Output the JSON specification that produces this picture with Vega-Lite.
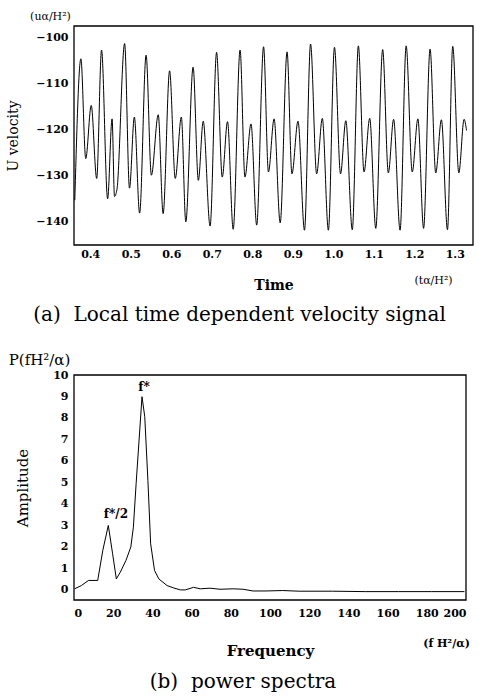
{
  "$schema": "https://vega.github.io/schema/vega-lite/v6.json",
  "background": "white",
  "padding": {"left": 6, "top": 10, "right": 3, "bottom": 5},
  "spacing": 27,
  "config": {
    "font": "DejaVu Serif",
    "view": {"stroke": null},
    "axis": {
      "grid": false,
      "domain": false,
      "ticks": false,
      "labelFont": "DejaVu Serif",
      "labelFontSize": 11,
      "labelFontWeight": "bold",
      "labelColor": "black",
      "titleColor": "black",
      "titleFont": "DejaVu Serif",
      "titleFontWeight": "normal"
    },
    "title": {"font": "DejaVu Serif", "fontSize": 20, "fontWeight": "normal", "color": "black"}
  },
  "datasets": {
    "signal": [
      {"t": 0.362, "u": -135.3}, {"t": 0.377, "u": -104.7}, {"t": 0.389, "u": -126.3}, {"t": 0.4025, "u": -114.8},
      {"t": 0.416, "u": -130.6}, {"t": 0.428, "u": -102.8}, {"t": 0.443, "u": -135.0}, {"t": 0.454, "u": -117.7},
      {"t": 0.460, "u": -134.5}, {"t": 0.466, "u": -133.0}, {"t": 0.485, "u": -101.4}, {"t": 0.497, "u": -132.7},
      {"t": 0.509, "u": -117.3}, {"t": 0.522, "u": -138.1}, {"t": 0.538, "u": -103.9}, {"t": 0.551, "u": -129.9},
      {"t": 0.568, "u": -116.8}, {"t": 0.580, "u": -138.2}, {"t": 0.596, "u": -107.3}, {"t": 0.610, "u": -130.6},
      {"t": 0.625, "u": -117.3}, {"t": 0.636, "u": -140.0}, {"t": 0.654, "u": -106.5}, {"t": 0.667, "u": -131.0},
      {"t": 0.679, "u": -118.2}, {"t": 0.696, "u": -140.9}, {"t": 0.712, "u": -103.3}, {"t": 0.726, "u": -130.3},
      {"t": 0.739, "u": -118.3}, {"t": 0.753, "u": -141.6}, {"t": 0.770, "u": -102.8}, {"t": 0.782, "u": -130.3},
      {"t": 0.797, "u": -118.8}, {"t": 0.811, "u": -140.7}, {"t": 0.828, "u": -102.1}, {"t": 0.840, "u": -129.2},
      {"t": 0.854, "u": -117.7}, {"t": 0.869, "u": -140.2}, {"t": 0.886, "u": -103.2}, {"t": 0.898, "u": -129.6},
      {"t": 0.913, "u": -118.2}, {"t": 0.929, "u": -141.8}, {"t": 0.944, "u": -101.5}, {"t": 0.959, "u": -129.6},
      {"t": 0.973, "u": -117.6}, {"t": 0.988, "u": -141.8}, {"t": 1.003, "u": -102.2}, {"t": 1.018, "u": -129.6},
      {"t": 1.031, "u": -118.1}, {"t": 1.047, "u": -141.7}, {"t": 1.062, "u": -101.9}, {"t": 1.076, "u": -129.2},
      {"t": 1.090, "u": -117.6}, {"t": 1.105, "u": -141.4}, {"t": 1.122, "u": -102.7}, {"t": 1.136, "u": -129.4},
      {"t": 1.149, "u": -117.8}, {"t": 1.165, "u": -141.8}, {"t": 1.180, "u": -101.9}, {"t": 1.195, "u": -129.2},
      {"t": 1.209, "u": -117.7}, {"t": 1.223, "u": -141.4}, {"t": 1.239, "u": -102.6}, {"t": 1.253, "u": -129.4},
      {"t": 1.267, "u": -117.9}, {"t": 1.282, "u": -141.7}, {"t": 1.295, "u": -102.0}, {"t": 1.310, "u": -129.4},
      {"t": 1.323, "u": -117.8}, {"t": 1.329, "u": -120.2}
    ],
    "spectrum": [
      {"f": 0.3, "a": 0.05}, {"f": 3.7, "a": 0.2}, {"f": 7.4, "a": 0.44}, {"f": 12.1, "a": 0.44},
      {"f": 14.7, "a": 1.84}, {"f": 17.5, "a": 3.0}, {"f": 19.7, "a": 1.68}, {"f": 21.6, "a": 0.51},
      {"f": 23.6, "a": 0.82}, {"f": 26.5, "a": 1.37}, {"f": 29.0, "a": 2.0}, {"f": 30.3, "a": 2.92},
      {"f": 31.7, "a": 4.95}, {"f": 33.2, "a": 6.97}, {"f": 34.7, "a": 8.99}, {"f": 36.1, "a": 8.06},
      {"f": 37.7, "a": 5.1}, {"f": 39.1, "a": 2.15}, {"f": 41.1, "a": 0.9}, {"f": 43.3, "a": 0.51},
      {"f": 47.5, "a": 0.2}, {"f": 50.9, "a": 0.09}, {"f": 54.3, "a": 0.0}, {"f": 56.8, "a": 0.0},
      {"f": 61.0, "a": 0.12}, {"f": 64.4, "a": 0.05}, {"f": 69.4, "a": 0.08}, {"f": 74.5, "a": 0.03},
      {"f": 81.2, "a": 0.05}, {"f": 86.3, "a": 0.03}, {"f": 91.3, "a": -0.05}, {"f": 98.0, "a": -0.05},
      {"f": 106.5, "a": -0.03}, {"f": 114.9, "a": -0.06}, {"f": 131.8, "a": -0.06}, {"f": 148.6, "a": -0.08},
      {"f": 165.5, "a": -0.08}, {"f": 182.3, "a": -0.08}, {"f": 199.2, "a": -0.08}
    ],
    "peaks": [
      {"f": 35.7, "a": 9.45, "label": "f*"},
      {"f": 21.4, "a": 3.55, "label": "f*/2"}
    ],
    "frameTop": [{"x1": 0.36, "x2": 1.345, "y1": -145, "y2": -97.6}],
    "frameBottom": [{"x1": 0, "x2": 200, "y1": -0.47, "y2": 10}]
  },
  "vconcat": [
    {
      "width": 399,
      "height": 219,
      "title": {"text": "(a)\u00a0\u00a0Local time dependent velocity signal", "orient": "bottom", "anchor": "middle", "offset": 13, "dx": -34},
      "layer": [
        {
          "data": {"name": "frameTop"},
          "mark": {"type": "rect", "fill": null, "fillOpacity": 0, "stroke": "black", "strokeWidth": 1.3},
          "encoding": {
            "x": {"field": "x1", "type": "quantitative", "scale": {"domain": [0.36, 1.345], "nice": false, "zero": false}, "axis": null},
            "x2": {"field": "x2"},
            "y": {"field": "y1", "type": "quantitative", "scale": {"domain": [-145, -97.6], "nice": false, "zero": false}, "axis": null},
            "y2": {"field": "y2"}
          }
        },
        {
          "data": {"name": "signal"},
          "mark": {"type": "line", "interpolate": "monotone", "color": "black", "strokeWidth": 1, "clip": true},
          "encoding": {
            "x": {
              "field": "t", "type": "quantitative",
              "scale": {"domain": [0.36, 1.345], "nice": false, "zero": false},
              "axis": {"orient": "bottom", "values": [0.4, 0.5, 0.6, 0.7, 0.8, 0.9, 1.0, 1.1, 1.2, 1.3], "format": ".1f",
                       "labelPadding": 3,
                       "title": "Time", "titleFontSize": 14, "titleFontWeight": "bold", "titleY": 40, "titleBaseline": "middle"}
            },
            "y": {
              "field": "u", "type": "quantitative",
              "scale": {"domain": [-145, -97.6], "nice": false, "zero": false},
              "axis": {"orient": "left", "values": [-140, -130, -120, -110, -100], "format": "d",
                       "labelPadding": 6,
                       "title": "U velocity", "titleFontSize": 14, "titleX": -54}
            }
          }
        },
        {
          "data": {"name": "signal"},
          "mark": {"type": "line", "opacity": 0},
          "encoding": {
            "x": {
              "field": "t", "type": "quantitative",
              "scale": {"domain": [0.36, 1.345], "nice": false, "zero": false},
              "axis": {"orient": "top", "labels": false, "values": [],
                       "title": "(tα/H²)", "titleFontSize": 11, "titleAngle": 0, "titleX": 359, "titleY": 254, "titleBaseline": "middle", "titleAlign": "center"}
            },
            "y": {
              "field": "u", "type": "quantitative",
              "scale": {"domain": [-145, -97.6], "nice": false, "zero": false},
              "axis": {"orient": "right", "labels": false, "values": [],
                       "title": "(uα/H²)", "titleFontSize": 11, "titleAngle": 0, "titleX": -423, "titleY": -10, "titleBaseline": "middle", "titleAlign": "center"}
            }
          }
        }
      ],
      "resolve": {"axis": {"x": "independent", "y": "independent"}}
    },
    {
      "width": 392,
      "height": 225,
      "title": {"text": "(b)\u00a0\u00a0power spectra", "orient": "bottom", "anchor": "middle", "offset": 14, "dx": -27},
      "layer": [
        {
          "data": {"name": "frameBottom"},
          "mark": {"type": "rect", "fill": null, "fillOpacity": 0, "stroke": "black", "strokeWidth": 1.3},
          "encoding": {
            "x": {"field": "x1", "type": "quantitative", "scale": {"domain": [0, 200], "nice": false, "zero": false}, "axis": null},
            "x2": {"field": "x2"},
            "y": {"field": "y1", "type": "quantitative", "scale": {"domain": [-0.47, 10], "nice": false, "zero": false}, "axis": null},
            "y2": {"field": "y2"}
          }
        },
        {
          "data": {"name": "spectrum"},
          "mark": {"type": "line", "color": "black", "strokeWidth": 1, "clip": true},
          "encoding": {
            "x": {
              "field": "f", "type": "quantitative",
              "scale": {"domain": [0, 200], "nice": false, "zero": false},
              "axis": {"orient": "bottom", "values": [0, 20, 40, 60, 80, 100, 120, 140, 160, 180, 200], "format": "d",
                       "labelPadding": 7,
                       "title": "Frequency", "titleFontSize": 15, "titleFontWeight": "bold", "titleY": 50, "titleBaseline": "middle"}
            },
            "y": {
              "field": "a", "type": "quantitative",
              "scale": {"domain": [-0.47, 10], "nice": false, "zero": false},
              "axis": {"orient": "left", "values": [0, 1, 2, 3, 4, 5, 6, 7, 8, 9, 10], "format": "d", "labelPadding": 6,
                       "title": "Amplitude", "titleFontSize": 15, "titleX": -44}
            }
          }
        },
        {
          "data": {"name": "peaks"},
          "mark": {"type": "text", "color": "black", "font": "DejaVu Serif", "fontSize": 12, "fontWeight": "bold", "baseline": "middle"},
          "encoding": {
            "x": {
              "field": "f", "type": "quantitative",
              "scale": {"domain": [0, 200], "nice": false, "zero": false},
              "axis": {"orient": "top", "labels": false, "values": [],
                       "title": "(f H²/α)", "titleFontSize": 11, "titleFontWeight": "bold", "titleAngle": 0, "titleX": 372, "titleY": 268, "titleBaseline": "middle", "titleAlign": "center"}
            },
            "y": {
              "field": "a", "type": "quantitative",
              "scale": {"domain": [-0.47, 10], "nice": false, "zero": false},
              "axis": {"orient": "right", "labels": false, "values": [],
                       "title": "P(fH²/α)", "titleFontSize": 15, "titleAngle": 0, "titleX": -427, "titleY": -16, "titleBaseline": "middle", "titleAlign": "center"}
            },
            "text": {"field": "label", "type": "nominal"}
          }
        }
      ],
      "resolve": {"axis": {"x": "independent", "y": "independent"}}
    }
  ]
}
